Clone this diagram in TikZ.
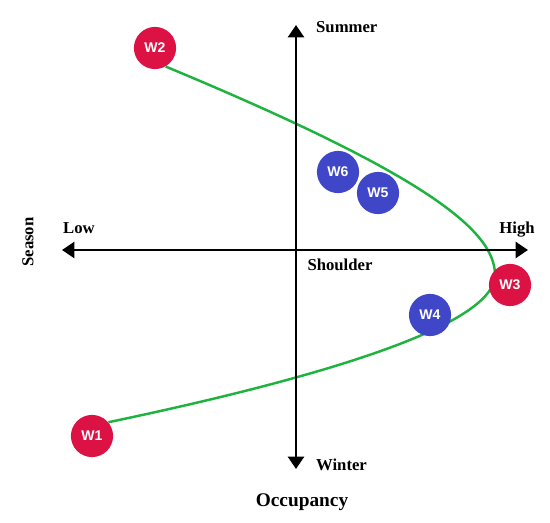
\documentclass[tikz,border=0pt]{standalone}
\usepackage{fontspec}
\setmainfont{Liberation Serif}
\newfontfamily\circfont{Liberation Sans}
\usetikzlibrary{arrows.meta,backgrounds}
\definecolor{wred}{RGB}{220,18,68}
\definecolor{wblue}{RGB}{64,70,200}
\definecolor{wgreen}{RGB}{30,178,62}
\begin{document}
\begin{tikzpicture}[x=0.02cm, y=-0.02cm,
    axis/.style={line width=1.6pt, {Triangle[width=9pt,length=7pt]}-{Triangle[width=9pt,length=7pt]}},
    lbl/.style={font=\bfseries\fontsize{9.5}{11}\selectfont},
    wpt/.style={circle, minimum size=24pt, inner sep=0pt, text=white, font=\circfont\bfseries\fontsize{8}{9}\selectfont},
    redpt/.style={wpt, fill=wred},
    bluept/.style={wpt, fill=wblue}]
    \useasboundingbox (0,0) rectangle (550,523);
    \coordinate (L) at (62,250);
    \coordinate (R) at (528,250);
    \coordinate (T) at (296,25);
    \coordinate (B) at (296,469);
    
    \draw[axis] (L) -- (R);
    \draw[axis] (T) -- (B);
    
    \node[lbl, anchor=west] (summer) at (310,27) {Summer};
    \node[lbl, anchor=west] (winter) at (310,465) {Winter};
    \node[lbl] (low) at (79,228) {Low};
    \node[lbl] (high) at (517,230) {High};
    \node[lbl] (shoulder) at (340,265) {Shoulder};
    \node[lbl, rotate=90] (season) at (28,242) {Season};
    \node[lbl, font=\bfseries\fontsize{11}{13}\selectfont] (occ) at (302,502) {Occupancy};
    
    \node[redpt] (w1) at (92,436) {W1};
    \node[redpt] (w2) at (155,48) {W2};
    \node[redpt] (w3) at (510,285) {W3};
    \node[bluept] (w4) at (430,315) {W4};
    \node[bluept] (w5) at (378,193) {W5};
    \node[bluept] (w6) at (338,172) {W6};
    
    % occupancy curve, behind the points
    \begin{scope}[on background layer]
        \draw[wgreen, line width=1.4pt] (w2.-60) .. controls (424,174) and (495,230) .. (495,275)
            .. controls (495,318) and (367,368) .. (w1.40);
    \end{scope}
\end{tikzpicture}
\end{document}
